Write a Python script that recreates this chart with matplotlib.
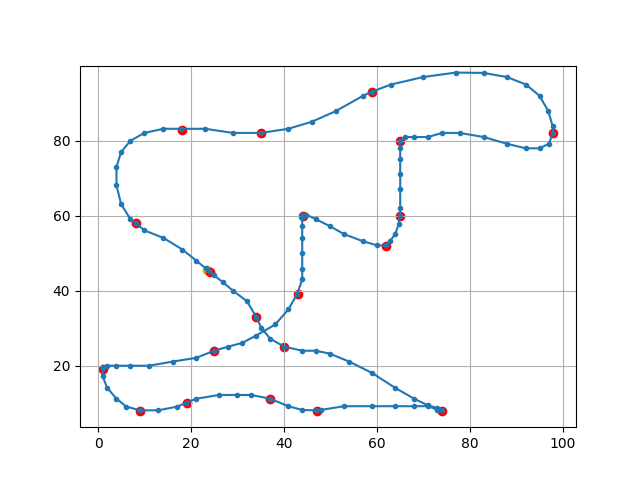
import matplotlib
matplotlib.use("Agg")
import matplotlib.pyplot as plt
import numpy as np

# control points (red)
ctrl_x = [24, 34, 40, 74, 47, 37, 19, 9, 1, 25, 43, 44, 62, 65, 65, 98, 59, 35, 18, 8]
ctrl_y = [45, 33, 25, 8, 8, 11, 10, 8, 19, 24, 39, 60, 52, 60, 80, 82, 93, 82, 83, 58]

# start marker
start_x = [23.5]
start_y = [45.6]

# path points
path_x = [
    23.9, 24.9, 26.9, 29.0, 32.0, 34.0, 35.1, 37.0, 40.0,
    43.9, 46.9, 49.9, 54.0, 58.9, 63.9, 68.0, 71.0, 72.9, 74.0,
    72.9, 71.0, 68.0, 63.9, 58.9, 52.9, 47.9, 46.8,
    43.9, 40.9, 37.0, 32.9, 29.9, 26.0, 21.1, 18.9,
    17.0, 12.9, 9.0, 6.0, 3.9, 1.9, 0.9, 0.9,
    1.9, 3.9, 6.9, 10.9, 16.0, 21.1, 24.9,
    28.0, 31.0, 33.9, 38.1, 40.9, 42.8,
    43.9, 43.9, 43.9, 43.9, 43.9, 43.9, 43.8,
    44.8, 46.8, 49.9, 52.9, 57.0, 60.0, 61.9,
    62.8, 63.9, 64.7, 64.9,
    65.0, 65.0, 65.0, 65.0, 65.0, 64.9,
    66.0, 68.0, 71.0, 74.0, 77.8, 83.0, 88.0, 92.0, 95.0, 97.0, 97.9,
    97.8, 96.9, 95.0, 92.1, 88.0, 83.0, 77.0, 69.9, 63.0, 58.9,
    57.0, 51.1, 46.0, 40.9, 35.0,
    29.0, 23.0, 17.9,
    14.0, 9.9, 6.9, 4.9, 3.9, 3.9, 4.9, 6.9, 8.0,
    9.9, 14.0, 18.1, 21.1, 23.1, 23.9,
]
path_y = [
    45.3, 44.1, 42.2, 40.0, 37.2, 33.0, 30.1, 27.2, 25.1,
    24.0, 24.0, 23.2, 21.1, 18.1, 14.1, 11.2, 9.4, 8.8, 8.1,
    8.3, 9.2, 9.2, 9.2, 9.2, 9.2, 8.2, 8.1,
    8.2, 9.2, 11.2, 12.2, 12.2, 12.2, 11.2, 10.1,
    9.1, 8.1, 8.1, 9.1, 11.2, 14.1, 17.2, 19.3,
    20.0, 20.0, 20.0, 20.0, 21.1, 22.1, 24.0,
    25.1, 26.1, 28.0, 31.0, 35.0, 39.1,
    43.0, 45.9, 50.0, 54.0, 57.2, 59.3, 60.3,
    60.3, 59.1, 57.2, 55.1, 53.2, 52.1, 52.1,
    53.2, 55.1, 57.8, 60.0,
    62.0, 67.1, 71.1, 75.1, 78.0, 79.9,
    81.0, 81.0, 81.0, 82.1, 82.1, 81.0, 79.2, 78.0, 78.0, 79.2, 82.1,
    84.0, 87.9, 92.0, 95.0, 97.0, 98.1, 98.2, 97.0, 95.0, 93.1,
    92.0, 87.9, 85.1, 83.2, 82.1,
    82.1, 83.2, 83.2,
    83.2, 82.1, 80.0, 77.0, 73.0, 68.1, 63.1, 59.1, 58.1,
    56.1, 54.1, 51.0, 48.0, 46.0, 45.3,
]

fig, ax = plt.subplots(figsize=(6.4, 4.8), dpi=100)
fig.subplots_adjust(top=0.8625)
ax.scatter(start_x, start_y, color="y")
ax.scatter(ctrl_x, ctrl_y, color="red")
ax.plot(path_x, path_y, ".-")
ax.set_ylim(3.6, 99.95)
ax.grid(True)

fig.savefig("out.png")
